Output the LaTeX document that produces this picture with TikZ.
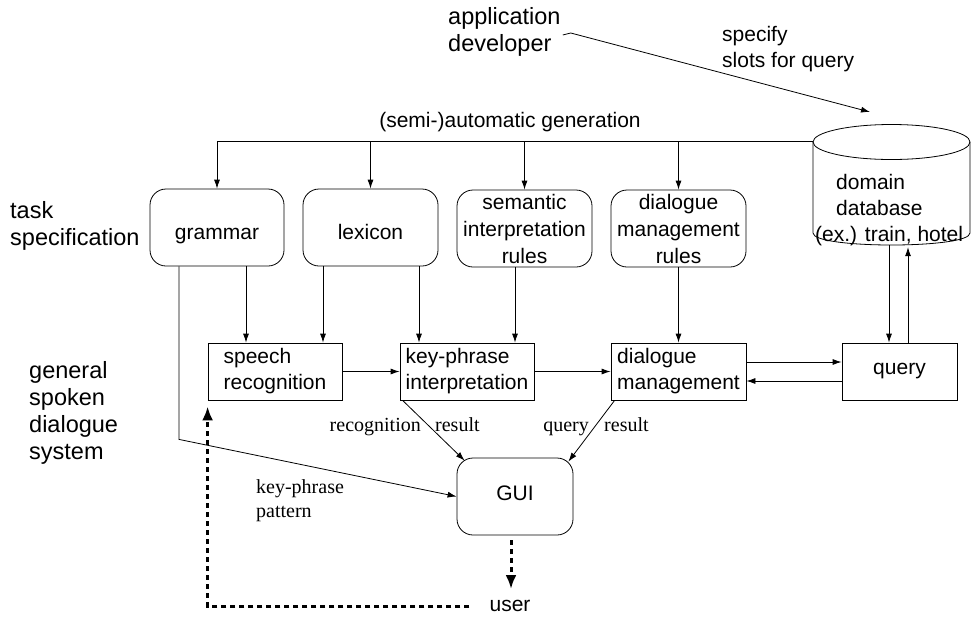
\documentclass[tikz,border=0pt]{standalone}
\usepackage{fontspec}
\setmainfont{Liberation Sans}
\newfontfamily\tmsfont{Liberation Serif}
\usetikzlibrary{arrows.meta}
\begin{document}
\begin{tikzpicture}[x=1pt,y=-1pt,
  every node/.style={inner sep=0pt, font=\fontsize{21}{26}\selectfont},
  rbox/.style={draw, line width=0.8pt, rounded corners=16pt, minimum width=134pt, minimum height=77pt, align=center},
  onel/.style={text height=28pt, text depth=5pt},
  sbox/.style={draw, line width=0.8pt, minimum width=134pt, minimum height=57pt, align=left},
  lbl/.style={font=\fontsize{23.5}{27}\selectfont, align=left, anchor=west},
  tlbl/.style={font=\tmsfont\fontsize{20}{24}\selectfont, align=left},
  arr/.style={-{Latex[length=9pt,width=6pt]}, line width=0.8pt},
  plain/.style={line width=0.8pt},
  dots/.style={line width=3pt, dash pattern=on 5pt off 4pt, -{Latex[length=14pt,width=11pt]}}
]
\useasboundingbox (0,0) rectangle (973,619);

% left labels
\node[lbl] (task) at (10,226) {task\\specification};
\node[lbl] (gsds) at (29,413) {general\\spoken\\dialogue\\system};
\node[lbl] (dev) at (448,32) {application\\developer};
\node[anchor=west, align=left] (spec) at (722,49) {specify\\slots for query};
\node (semi) at (510,122) {(semi-)automatic generation};

% top boxes
\node[rbox, onel] (grammar) at (217,227.5) {grammar};
\node[rbox, onel, minimum width=135pt] (lexicon) at (370.5,227.5) {lexicon};
\node[rbox, minimum width=135pt, font=\fontsize{21}{27}\selectfont] (semantic) at (524.5,228.5) {semantic\\interpretation\\rules};
\node[rbox, minimum width=135pt, font=\fontsize{21}{27}\selectfont] (dmrules) at (678.5,228.5) {dialogue\\management\\rules};

% database cylinder
\node[minimum width=157pt, minimum height=110pt] (db) at (891.5,190) {};
\draw[plain] (891.5,142) ellipse [x radius=78.5pt, y radius=17.5pt];
\draw[plain] (813,142) -- (813,233) .. controls (813,249) and (970,249) .. (970,233) -- (970,142);
\node[anchor=west, align=left] (dbtext) at (836,195) {domain\\database};
\node[anchor=west] (dbex) at (815,236) {(ex.) train, hotel};

% system boxes
\node[sbox] (speech) at (275,371.5) {speech\\recognition};
\node[sbox] (keyphrase) at (467,371.5) {key-phrase\\interpretation};
\node[sbox, minimum width=135pt] (dialog) at (678.5,371.5) {dialogue\\management};
\node[sbox, minimum width=115pt, align=center] (query) at (899.5,371.5) {query};
\node[rbox, minimum width=116pt, text height=15pt, text depth=8pt] (gui) at (515,496.5) {GUI};
\node (user) at (510,606) {user};

% developer arrow
\coordinate (dbtop) at (870,112);
\draw[arr] ([shift={(2,3)}]dev.east) -- ([shift={(10,1)}]dev.east) -- (dbtop);

% bus
\coordinate (bus) at (0,141);
\draw[plain] (grammar.north |- bus) -- (db.west |- bus);
\foreach \n in {grammar,lexicon,semantic,dmrules}
  \draw[arr] (\n.north |- bus) -- (\n.north);

% top boxes to system boxes
\draw[arr] ([xshift=29pt]grammar.south) -- ([xshift=29pt]grammar.south |- speech.north);
\draw[arr] ([xshift=-47.5pt]lexicon.south) -- ([xshift=-47.5pt]lexicon.south |- speech.north);
\draw[arr] ([xshift=48.5pt]lexicon.south) -- ([xshift=48.5pt]lexicon.south |- keyphrase.north);
\draw[arr] ([xshift=-9.5pt]semantic.south) -- ([xshift=-9.5pt]semantic.south |- keyphrase.north);
\draw[arr] (dmrules.south) -- (dialog.north);

% chain
\draw[arr] (speech.east) -- (speech.east -| keyphrase.west);
\draw[arr] (keyphrase.east) -- (keyphrase.east -| dialog.west);
\draw[arr] ([yshift=9.5pt]dialog.east) -- ([yshift=9.5pt]dialog.east -| query.west);
\draw[arr] ([yshift=-9.5pt]query.west) -- ([yshift=-9.5pt]query.west -| dialog.east);

% db <-> query
\draw[arr] ([xshift=-2.5pt]db.south) -- ([xshift=-2.5pt]db.south |- query.north);
\draw[arr] ([xshift=16.5pt]db.south |- query.north) -- ([shift={(16.5,2)}]db.south);

% to GUI
\draw[arr] ([xshift=-38pt]grammar.south) -- ++(0,173) -- (gui.west);
\draw[arr] ([shift={(3,0)}]keyphrase.south west) -- ([shift={(8,3)}]gui.north west);
\draw[arr] ([shift={(4,0)}]dialog.south west) -- ([shift={(-5,4)}]gui.north east);

\node[tlbl, anchor=base east] (lrec) at (421,431) {recognition};
\node[tlbl, anchor=base west] (lres1) at (435,431) {result};
\node[tlbl, anchor=base east] (lqry) at (589,431) {query};
\node[tlbl, anchor=base west] (lres2) at (604,431) {result};
\node[tlbl, anchor=west] (lkp) at (256,501) {key-phrase\\pattern};

% user loop
\coordinate (uarr) at (511,589);
\draw[dots] ([shift={(-4,5)}]gui.south) -- (uarr);
\draw[dots] ([xshift=-20pt]user.west) -| ([shift={(0,6)}]speech.south west);
\end{tikzpicture}
\end{document}
